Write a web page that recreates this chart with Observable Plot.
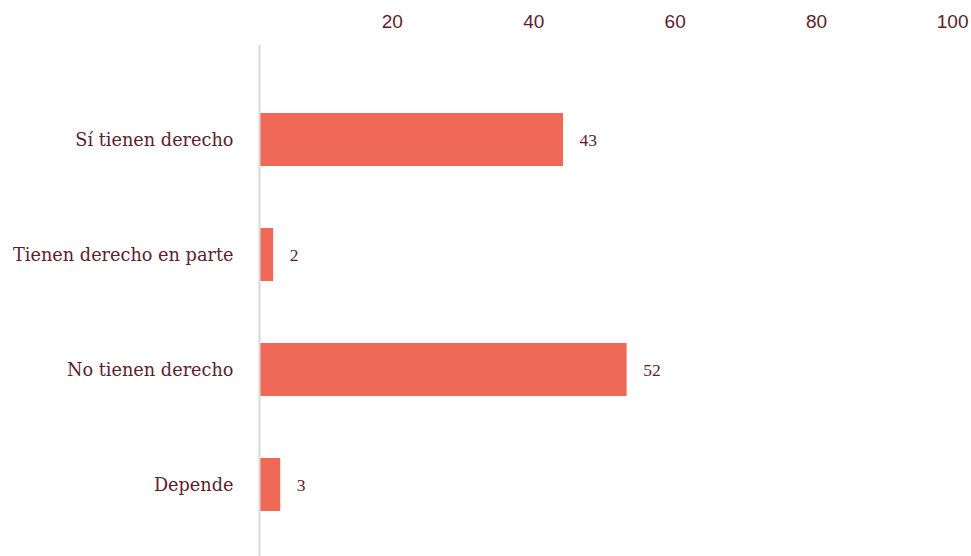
<!DOCTYPE html>
<html>
<head>
<meta charset="utf-8">
<script src="https://cdn.jsdelivr.net/npm/d3@7"></script>
<script src="https://cdn.jsdelivr.net/npm/@observablehq/plot@0.6"></script>
<style>
  html, body { margin: 0; padding: 0; background: #ffffff; }
  #chart svg { display: block; }
  .vlabel text { font-family: "Liberation Serif", "Times New Roman", serif !important; }
</style>
</head>
<body>
<div id="chart"></div>
<script>
const categories = ["Sí tienen derecho", "Tienen derecho en parte", "No tienen derecho", "Depende"];
const values = [43, 2, 52, 3];
const xTicks = [20, 40, 60, 80, 100];

const data = categories.map((c, i) => ({category: c, value: values[i]}));

const textColor = "#5c1e2e";
const barColor = "#f06957";

const chart = Plot.plot({
  width: 971,
  height: 556,
  marginLeft: 259,
  marginRight: 5,
  marginTop: 45,
  marginBottom: 0,
  style: {background: "#ffffff", color: textColor, overflow: "visible"},
  x: {domain: [0, 100]},
  y: {domain: categories, paddingInner: 0.54, paddingOuter: 0.486, align: 0.6},
  marks: [
    Plot.axisX({
      anchor: "top",
      ticks: xTicks,
      tickSize: 0,
      tickPadding: 0,
      textAnchor: "end",
      dx: 2,
      dy: -18,
      fontSize: 19,
      fontFamily: "Liberation Sans",
      fill: textColor,
      label: null
    }),
    Plot.axisY({
      tickSize: 0,
      tickPadding: 26,
      fontSize: 17.7,
      fontFamily: "DejaVu Serif",
      fill: textColor,
      label: null
    }),
    Plot.barX(data, {x: "value", y: "category", fill: barColor}),
    Plot.ruleX([0], {stroke: "#d9d9d9", strokeWidth: 2}),
    Plot.text(data, {
      x: "value", y: "category", text: d => String(d.value),
      textAnchor: "start", dx: 16,
      fontSize: 17.5, fontFamily: "Liberation Serif", fill: textColor,
      className: "vlabel"
    })
  ]
});

document.getElementById("chart").appendChild(chart);
</script>
</body>
</html>
